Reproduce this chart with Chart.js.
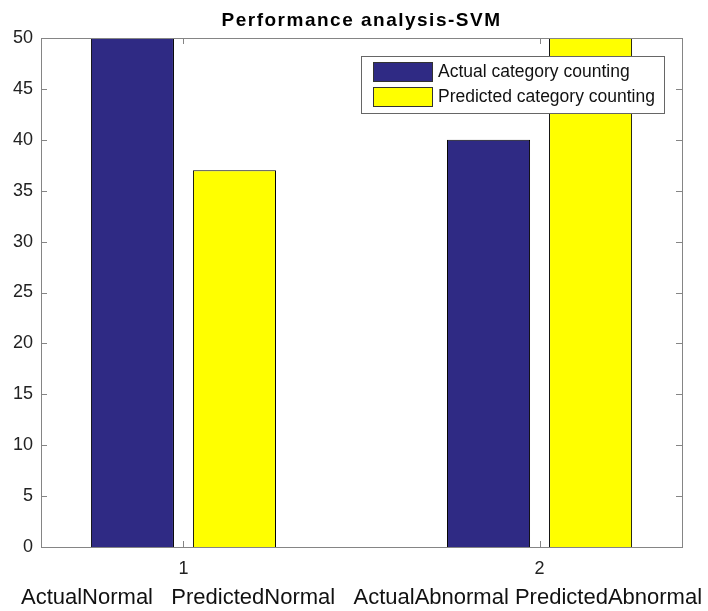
<!DOCTYPE html>
<html lang="en">
<head>
    <meta charset="UTF-8">
    <title>Performance analysis-SVM</title>
    <script src="https://cdn.jsdelivr.net/npm/chart.js"></script>
    <style>
        html, body {
            margin: 0;
            padding: 0;
            background: #ffffff;
        }
        #wrap {
            width: 708px;
            height: 611px;
        }
    </style>
</head>
<body>
    <div id="wrap"><canvas id="svmChart" width="708" height="611"></canvas></div>

    <script>
        // group positions on the x axis (MATLAB bar groups 1 and 2)
        const groupPositions = [1, 2];
        const actualCounts = [50, 40];
        const predictedCounts = [37, 53];   // 53 is clipped by the y limit, hidden under the legend
        const seriesNames = ['Actual category counting', 'Predicted category counting'];
        const yTickValues = [0, 5, 10, 15, 20, 25, 30, 35, 40, 45, 50];
        const xAxisText = 'ActualNormal   PredictedNormal   ActualAbnormal PredictedAbnormal';
        const chartTitle = 'Performance analysis-SVM';

        const NAVY = '#2f2a84';
        const YELLOW = '#ffff00';
        const AXIS_GREY = '#858585';
        const FONT = 'Arial, "Liberation Sans", Helvetica, sans-serif';

        const toPoints = vals => vals.map((v, i) => ({ x: groupPositions[i], y: v }));

        // box round the axes, inward tick marks, title, xlabel and legend (MATLAB look)
        const matlabAxes = {
            id: 'matlabAxes',
            afterDraw(chart) {
                const ctx = chart.ctx;
                const a = chart.chartArea;
                const xs = chart.scales.x;
                const ys = chart.scales.y;
                const tl = 6;
                const cx = (a.left + a.right) / 2;

                ctx.save();
                ctx.strokeStyle = AXIS_GREY;
                ctx.lineWidth = 1;
                ctx.strokeRect(Math.round(a.left) + 0.5, Math.round(a.top) + 0.5,
                    Math.round(a.right - a.left), Math.round(a.bottom - a.top));

                ctx.beginPath();
                yTickValues.forEach(v => {
                    const py = Math.round(ys.getPixelForValue(v)) + 0.5;
                    ctx.moveTo(a.left, py); ctx.lineTo(a.left + tl, py);
                    ctx.moveTo(a.right, py); ctx.lineTo(a.right - tl, py);
                });
                groupPositions.forEach(v => {
                    const px = Math.round(xs.getPixelForValue(v)) + 0.5;
                    ctx.moveTo(px, a.bottom); ctx.lineTo(px, a.bottom - tl);
                    ctx.moveTo(px, a.top); ctx.lineTo(px, a.top + tl);
                });
                ctx.stroke();

                // title
                ctx.fillStyle = '#000';
                ctx.font = 'bold 19px ' + FONT;
                ctx.letterSpacing = '1.5px';
                ctx.textAlign = 'center';
                ctx.textBaseline = 'alphabetic';
                ctx.fillText(chartTitle, cx, 26);
                ctx.letterSpacing = '0px';

                // x label (wider than the axes, so not drawn as the scale title)
                ctx.fillStyle = '#111';
                ctx.font = '22px ' + FONT;
                ctx.textBaseline = 'middle';
                ctx.fillText(xAxisText, cx, 598);

                // legend
                const lx = 361, ly = 56, lw = 303, lh = 57;
                ctx.fillStyle = '#fff';
                ctx.fillRect(lx, ly, lw, lh);
                ctx.strokeStyle = '#666';
                ctx.strokeRect(lx + 0.5, ly + 0.5, lw, lh);
                ctx.font = '17.5px ' + FONT;
                ctx.textAlign = 'left';
                chart.data.datasets.forEach((ds, i) => {
                    const ry = ly + 6 + i * 25;
                    ctx.fillStyle = ds.backgroundColor;
                    ctx.fillRect(lx + 12, ry, 59, 19);
                    ctx.strokeStyle = '#333';
                    ctx.strokeRect(lx + 12.5, ry + 0.5, 59, 19);
                    ctx.fillStyle = '#111';
                    ctx.fillText(ds.label, lx + 77, ry + 10);
                });
                ctx.restore();
            }
        };

        new Chart(document.getElementById('svmChart'), {
            type: 'bar',
            data: {
                datasets: [
                    {
                        label: seriesNames[0],
                        data: toPoints(actualCounts),
                        backgroundColor: NAVY,
                        borderColor: '#000',
                        borderWidth: 1
                    },
                    {
                        label: seriesNames[1],
                        data: toPoints(predictedCounts),
                        backgroundColor: YELLOW,
                        borderColor: '#000',
                        borderWidth: 1
                    }
                ]
            },
            options: {
                responsive: false,
                animation: false,
                categoryPercentage: 0.573,
                barPercentage: 0.814,
                layout: { padding: { top: 38, right: 26, left: 0, bottom: 0 } },
                plugins: {
                    legend: { display: false },
                    title: { display: false },
                    tooltip: { enabled: false }
                },
                scales: {
                    x: {
                        type: 'linear',
                        min: 0.6,
                        max: 2.4,
                        offset: false,
                        grid: { display: false, drawTicks: false },
                        border: { display: false },
                        afterBuildTicks: s => { s.ticks = groupPositions.map(v => ({ value: v })); },
                        afterFit: s => { s.height = 64; },
                        ticks: {
                            color: '#222',
                            padding: 11,
                            font: { family: FONT, size: 18 },
                            callback: v => String(v)
                        }
                    },
                    y: {
                        min: 0,
                        max: 50,
                        grid: { display: false, drawTicks: false },
                        border: { display: false },
                        afterBuildTicks: s => { s.ticks = yTickValues.map(v => ({ value: v })); },
                        afterFit: s => { s.width = 41; },
                        ticks: {
                            color: '#222',
                            padding: 8,
                            font: { family: FONT, size: 18 }
                        }
                    }
                }
            },
            plugins: [matlabAxes]
        });
    </script>
</body>
</html>
